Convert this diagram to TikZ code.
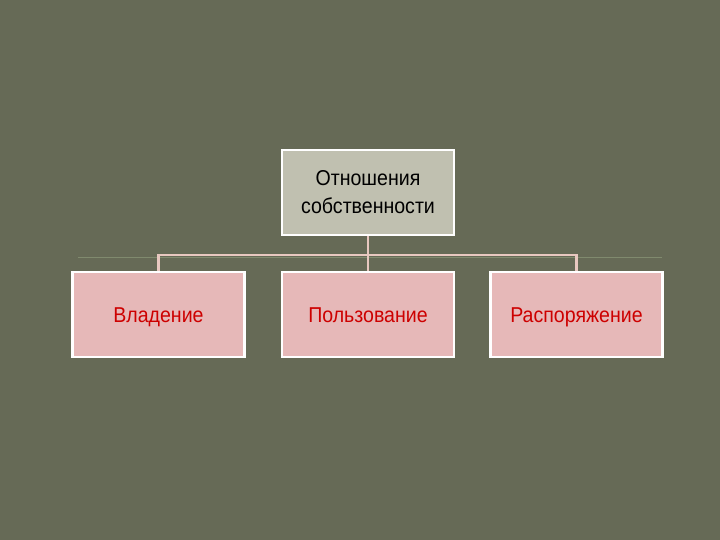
\documentclass[tikz,border=0pt]{standalone}
\usepackage{fontspec}
\setmainfont{Liberation Sans}[FakeStretch=0.91]
\usepackage{tikz}
\pgfdeclarelayer{bg}
\pgfsetlayers{bg,main}
\definecolor{olive}{RGB}{102,106,86}
\definecolor{topfill}{RGB}{192,192,176}
\definecolor{pinkfill}{RGB}{230,184,184}
\definecolor{linkpink}{RGB}{232,200,192}
\definecolor{rulegreen}{RGB}{128,138,110}
\definecolor{textred}{RGB}{205,0,0}
\tikzset{
    every node/.style={rectangle, draw=white, line width=2.5pt, minimum width=172pt, minimum height=85pt, inner sep=0pt, font=\fontsize{21.5}{28}\selectfont, align=center}
}
\tikzset{kind/.style={fill=pinkfill, text=textred, text height=16pt, text depth=0pt}}
\tikzset{link/.style={draw=linkpink, line width=2.5pt}}

\begin{document}
\begin{tikzpicture}[x=1pt, y=-1pt]
    \useasboundingbox (0,0) rectangle (720,540);

    \node (root) [fill=topfill, text=black] at (368, 192.5) {Отношения\\собственности};
    \node (own) [kind] at (158.5, 314.5) {Владение};
    \node (use) [kind] at (368, 314.5) {Пользование};
    \node (disp) [kind] at (576.5, 314.5) {Распоряжение};

    \coordinate (bar) at (368, 255);
    \coordinate (ruleL) at (78, 257.5);
    \coordinate (ruleR) at (662, 257.5);

    \begin{pgfonlayer}{bg}
        \fill [olive] (0,0) rectangle (720,540);
        \draw [rulegreen, line width=1pt] (ruleL) -- (ruleR);
        \draw [link] (root.south) -- (bar);
        \draw [link] (bar) -| (own.north);
        \draw [link] (bar) -| (disp.north);
        \draw [link] (bar) -- (use.north);
    \end{pgfonlayer}
\end{tikzpicture}
\end{document}
